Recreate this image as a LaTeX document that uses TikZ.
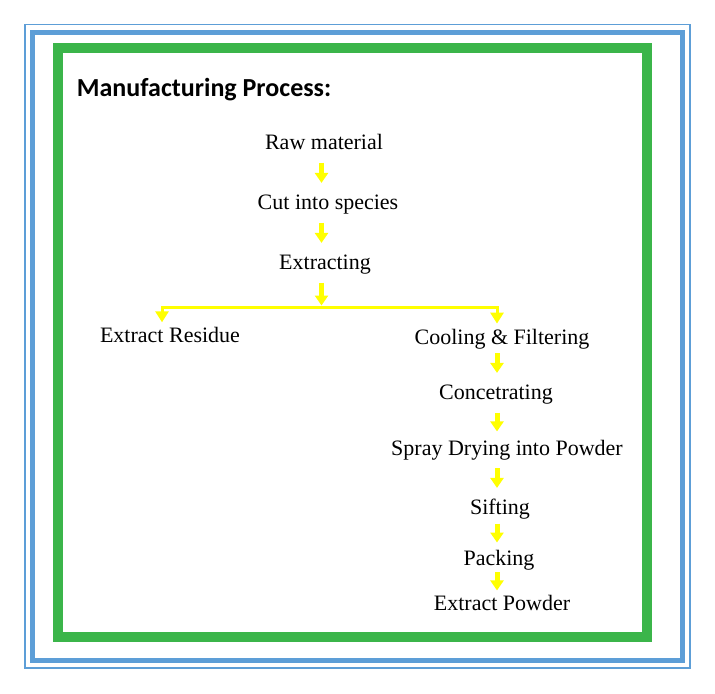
\documentclass[tikz,border=0pt]{standalone}
\usepackage{fontspec}
\setmainfont{Liberation Serif}
\newfontfamily\headfont{Carlito}
\usetikzlibrary{positioning,arrows.meta}
\definecolor{FrameBlue}{RGB}{93,158,215}
\definecolor{FrameGreen}{RGB}{59,181,74}
\definecolor{FlowYellow}{RGB}{255,255,0}
\tikzset{stage/.style={anchor=base,inner sep=0pt,text height=8pt,text depth=0pt,
		font=\fontsize{11}{13}\selectfont},
	yarrow/.style={FlowYellow,line width=2.5pt,shorten <=6.5pt,shorten >=5pt,
		-{Triangle[width=6.5pt,length=5pt]}},
	ybranch/.style={FlowYellow,line width=1.5pt,shorten <=2pt,shorten >=2pt,
		{Triangle[width=6.5pt,length=5.5pt]}-{Triangle[width=6.5pt,length=5.5pt]}}}

\begin{document}
\begin{tikzpicture}[x=0.5pt,y=-0.5pt]
	\useasboundingbox (0,0) rectangle (715,693);
	\draw[FrameBlue,line width=0.75pt] (25,24.5) rectangle (690,668);
	\draw[FrameBlue,line width=2.5pt] (32.5,32) rectangle (682,660.5);
	\draw[FrameGreen,line width=5pt] (57.5,48) rectangle (646.5,636.7);
	\node[anchor=base west,inner sep=0pt,font=\headfont\bfseries\fontsize{13}{15}\selectfont] (title) at (76.5,96.7) {Manufacturing Process:};
	\node[stage] (raw) at (324,149.3) {Raw material};
	\node[stage] (cut) at (328,209.3) {Cut into species};
	\node[stage] (extr) at (325,269.3) {Extracting};
	\coordinate (split) at (321.5,307);
	\coordinate (colL) at (162,307);
	\coordinate (colR) at (497,307);
	\node[stage] (resid) at (170,342.7) {Extract Residue};
	\node[stage] (cool) at (502,344) {Cooling \& Filtering};
	\node[stage] (conc) at (496,399.3) {Concetrating};
	\node[stage] (spray) at (507,455) {Spray Drying into Powder};
	\node[stage] (sift) at (500,514.3) {Sifting};
	\node[stage] (pack) at (499,565.7) {Packing};
	\node[stage] (powder) at (502,610) {Extract Powder};
	\draw[yarrow] (raw.south -| split) -- (cut.north -| split);
	\draw[yarrow] (cut.south -| split) -- (extr.north -| split);
	\draw[yarrow,shorten >=0.75pt] (extr.south -| split) -- (split);
	\draw[ybranch] (colL |- resid.north) -- (colL) -- (colR) -- (colR |- cool.north);
	\draw[yarrow,shorten <=4.5pt] (cool.south -| colR) -- (conc.north -| colR);
	\draw[yarrow,shorten >=3.6pt] (conc.south -| colR) -- (spray.north -| colR);
	\draw[yarrow] (spray.south -| colR) -- (sift.north -| colR);
	\draw[yarrow,shorten <=4.5pt,shorten >=3.4pt] (sift.south -| colR) -- (pack.north -| colR);
	\draw[yarrow,shorten <=3pt,shorten >=1.6pt] (pack.south -| colR) -- (powder.north -| colR);
\end{tikzpicture}
\end{document}
